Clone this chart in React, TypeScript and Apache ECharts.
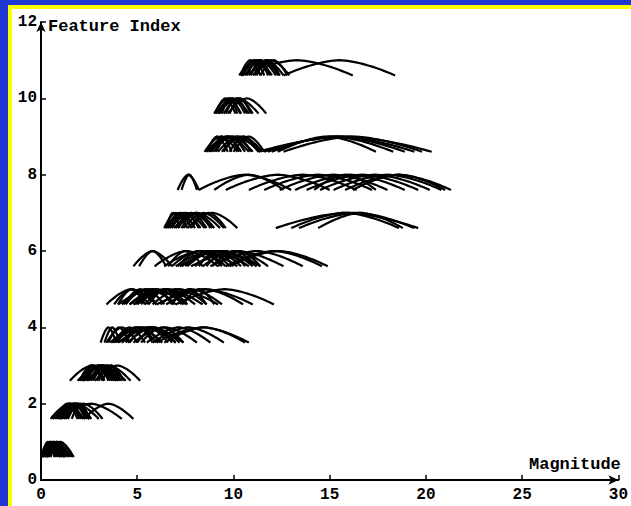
import React, { useEffect, useRef } from "react";
import * as echarts from "echarts";

// Arc intervals [start, end] on the Magnitude axis, per feature index
const feature1Arcs = [[0.0, 0.9], [0.0, 1.1], [0.1, 1.0], [0.2, 1.2], [0.05, 1.3], [0.3, 1.4], [0.15, 1.5], [0.4, 1.6], [0.3, 1.7], [0.0, 0.7], [0.5, 1.2], [0.1, 0.8], [0.25, 1.05], [0.35, 1.25], [0.0, 1.0]];
const feature2Arcs = [[0.5, 2.5], [0.8, 2.5], [1.0, 2.4], [0.7, 2.2], [1.1, 2.6], [0.9, 2.0], [1.3, 2.5], [1.2, 3.2], [1.0, 4.2], [2.2, 4.8], [0.6, 3.0], [1.6, 2.5], [0.8, 1.9], [1.0, 2.1], [1.2, 2.3], [0.9, 2.6], [1.4, 2.5]];
const feature3Arcs = [[1.5, 3.8], [2.0, 3.6], [2.1, 4.0], [2.3, 3.7], [2.2, 4.2], [2.5, 4.0], [1.9, 4.4], [2.4, 4.65], [2.8, 5.15], [2.0, 3.2], [2.7, 4.0], [3.2, 4.1], [2.1, 3.3], [2.4, 3.5], [2.6, 3.8], [2.9, 4.0], [2.2, 3.9], [3.0, 4.3]];
const feature4Arcs = [[3.1, 3.9], [3.3, 4.1], [3.4, 5.0], [3.6, 6.3], [3.9, 6.0], [4.2, 7.0], [4.0, 7.4], [4.5, 7.2], [5.0, 6.8], [4.8, 8.1], [5.5, 8.8], [5.8, 9.5], [6.0, 10.8], [6.4, 10.6], [4.4, 5.8], [3.5, 4.6], [3.8, 5.4], [4.2, 6.2], [4.6, 6.6], [5.2, 7.4], [3.7, 7.0]];
const feature5Arcs = [[3.4, 6.0], [3.8, 5.6], [4.2, 7.0], [4.0, 7.6], [4.6, 7.4], [5.0, 8.0], [5.4, 7.6], [4.8, 9.2], [5.8, 8.6], [6.2, 9.4], [6.5, 10.5], [7.0, 12.1], [6.0, 11.0], [4.4, 6.4], [7.4, 9.0], [4.0, 5.4], [4.3, 6.0], [4.9, 6.9], [5.2, 6.8], [5.6, 7.3], [4.6, 8.4], [6.8, 8.6]];
const feature6Arcs = [[4.8, 6.8], [5.1, 6.5], [5.9, 9.2], [6.4, 10.2], [6.8, 9.6], [7.0, 10.8], [7.3, 11.2], [7.6, 10.4], [8.0, 11.0], [8.4, 11.8], [7.8, 12.6], [8.8, 13.6], [9.6, 14.6], [9.8, 14.9], [6.6, 8.4], [8.6, 10.6], [7.1, 9.4], [7.5, 9.8], [8.2, 10.0], [8.9, 11.2], [7.2, 11.4], [9.2, 11.4]];
const feature7Arcs = [[6.4, 7.6], [6.5, 8.0], [6.6, 8.5], [6.8, 8.2], [7.0, 8.6], [6.9, 9.3], [7.3, 8.8], [7.6, 10.2], [7.8, 9.6], [6.5, 7.2], [6.6, 7.8], [6.7, 8.9], [7.1, 9.0], [7.4, 9.5], [6.45, 8.3], [12.2, 19.6], [13.0, 18.6], [14.4, 18.8], [13.4, 19.4]];
const feature8Arcs = [[7.1, 8.2], [7.3, 8.1], [8.2, 13.0], [9.0, 12.6], [9.6, 15.0], [10.8, 16.4], [11.6, 17.2], [12.4, 18.0], [13.2, 18.9], [13.8, 19.6], [14.5, 20.2], [15.2, 20.8], [15.8, 21.3], [16.2, 21.0], [14.2, 17.4]];
const feature9Arcs = [[8.5, 10.2], [8.6, 10.8], [8.8, 11.0], [9.0, 10.6], [9.2, 11.3], [9.4, 11.5], [8.7, 11.4], [9.8, 11.3], [10.0, 11.6], [8.9, 9.9], [8.6, 9.7], [9.1, 10.3], [9.5, 10.9], [8.8, 10.4], [11.3, 20.3], [11.6, 19.4], [12.0, 18.3], [12.3, 17.4], [11.8, 18.9], [12.6, 19.8]];
const feature10Arcs = [[9.0, 10.4], [9.1, 10.8], [9.3, 10.6], [9.5, 11.0], [9.2, 11.3], [9.7, 11.7], [9.4, 10.2], [9.8, 10.9], [9.05, 10.1], [9.25, 10.35], [9.6, 10.7]];
const feature11Arcs = [[10.3, 12.0], [10.4, 12.4], [10.6, 12.2], [10.8, 12.6], [10.5, 11.6], [11.0, 12.9], [11.2, 12.4], [10.9, 11.9], [11.4, 12.8], [10.35, 11.4], [10.7, 11.8], [11.1, 12.3], [10.4, 16.2], [12.6, 18.4]];

const featureArcs = [feature1Arcs, feature2Arcs, feature3Arcs, feature4Arcs, feature5Arcs, feature6Arcs, feature7Arcs, feature8Arcs, feature9Arcs, feature10Arcs, feature11Arcs];

const xTicks = [0, 5, 10, 15, 20, 25, 30];
const yTicks = [0, 2, 4, 6, 8, 10, 12];
const ARC_DROP = 0.4; // arc ends sit this far below the feature index

const FONT = "Liberation Mono";

export default function App() {
  const ref = useRef<HTMLDivElement>(null);
  useEffect(() => {
    if (!ref.current) return;
    const chart = echarts.init(ref.current, undefined, { renderer: "svg" });
    const data: number[][] = [];
    featureArcs.forEach((arcs, i) => {
      arcs.forEach(([s, e]) => data.push([s, e, i + 1]));
    });
    chart.setOption({
      animation: false,
      backgroundColor: "transparent",
      grid: { left: 41, right: 4, top: 22, bottom: 26, containLabel: false },
      xAxis: {
        type: "value",
        min: xTicks[0],
        max: xTicks[xTicks.length - 1],
        interval: 5,
        splitLine: { show: false },
        axisLine: { show: true, symbol: ["none", "arrow"], symbolSize: [7, 10], lineStyle: { color: "#000", width: 2 } },
        axisTick: { show: true, inside: true, length: 5, lineStyle: { color: "#000", width: 1.5 } },
        axisLabel: { color: "#000", fontFamily: FONT, fontWeight: "bold", fontSize: 16, margin: 7, showMinLabel: true, showMaxLabel: true },
      },
      yAxis: {
        type: "value",
        min: yTicks[0],
        max: yTicks[yTicks.length - 1],
        interval: 2,
        splitLine: { show: false },
        axisLine: { show: true, symbol: ["none", "arrow"], symbolSize: [7, 10], lineStyle: { color: "#000", width: 2 } },
        axisTick: { show: true, inside: true, length: 5, lineStyle: { color: "#000", width: 1.5 } },
        axisLabel: { color: "#000", fontFamily: FONT, fontWeight: "bold", fontSize: 16, margin: 4, showMinLabel: true, showMaxLabel: true },
      },
      graphic: [
        { type: "text", left: 48, top: 18, style: { text: "Feature Index", fontFamily: FONT, fontWeight: "bold", fontSize: 17, fill: "#000" } },
        { type: "text", left: 529, top: 456, style: { text: "Magnitude", fontFamily: FONT, fontWeight: "bold", fontSize: 17, fill: "#000" } },
      ],
      series: [
        {
          type: "custom",
          data,
          encode: { x: [0, 1], y: 2 },
          renderItem: (params: any, api: any) => {
            const s = api.value(0);
            const e = api.value(1);
            const k = api.value(2);
            const pts: number[][] = [];
            const N = 40;
            for (let j = 0; j <= N; j++) {
              const t = j / N;
              const x = s + (e - s) * t;
              const u = Math.abs(2 * t - 1);
              const y = k - ARC_DROP + ARC_DROP * (1 - Math.pow(u, 1.6));
              pts.push(api.coord([x, y]));
            }
            return {
              type: "polyline",
              shape: { points: pts },
              style: { stroke: "#000", lineWidth: 2.2, fill: "none" },
            };
          },
        },
      ],
    });
    return () => chart.dispose();
  }, []);

  return (
    <div style={{ position: "absolute", left: 0, top: 0, width: 631, height: 506, background: "#2137d3", overflow: "hidden" }}>
      <div style={{ position: "absolute", left: 8, top: 5, width: 623, height: 501, background: "#ffff00" }} />
      <div style={{ position: "absolute", left: 12, top: 9, width: 619, height: 497, background: "#ffffff" }} />
      <div ref={ref} style={{ position: "absolute", left: 0, top: 0, width: 631, height: 506 }} />
    </div>
  );
}
